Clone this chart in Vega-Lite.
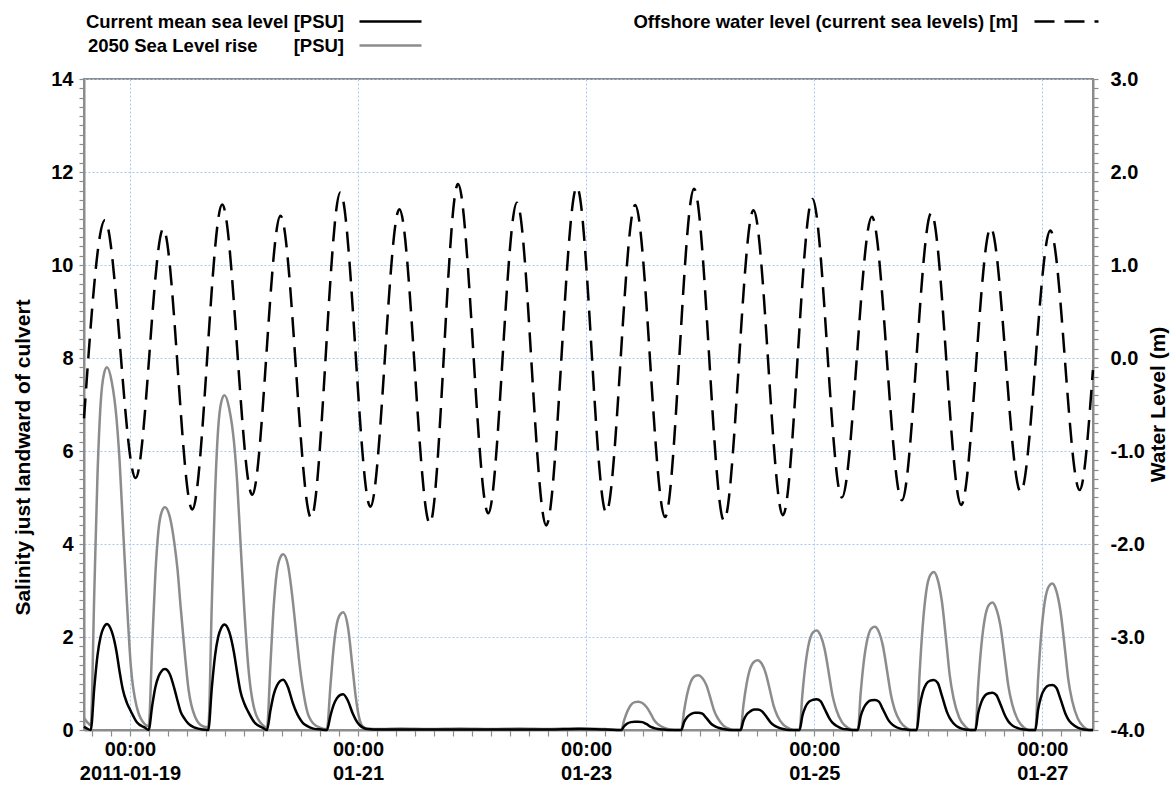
{
  "$schema": "https://vega.github.io/schema/vega-lite/v6.json",
  "width": 1009,
  "height": 651,
  "autosize": {"type": "none"},
  "padding": {"left": 84, "top": 79, "right": 78, "bottom": 55},
  "background": "white",
  "datasets": {
    "sal": [
      {"t": "2011-01-18T14:20Z", "cur": 0.07, "slr": 0.26},
      {"t": "2011-01-18T15:00Z", "cur": 0.03, "slr": 0.17},
      {"t": "2011-01-18T15:45Z", "cur": 0, "slr": 0.10},
      {"t": "2011-01-18T16:30Z", "cur": 0.91, "slr": 2.96},
      {"t": "2011-01-18T17:10Z", "cur": 1.60, "slr": 5.46},
      {"t": "2011-01-18T17:50Z", "cur": 2.01, "slr": 7.02},
      {"t": "2011-01-18T18:30Z", "cur": 2.21, "slr": 7.64},
      {"t": "2011-01-18T19:10Z", "cur": 2.28, "slr": 7.80},
      {"t": "2011-01-18T20:10Z", "cur": 2.12, "slr": 7.49},
      {"t": "2011-01-18T21:10Z", "cur": 1.69, "slr": 6.71},
      {"t": "2011-01-18T21:50Z", "cur": 1.25, "slr": 5.77},
      {"t": "2011-01-18T22:30Z", "cur": 0.87, "slr": 4.45},
      {"t": "2011-01-18T23:20Z", "cur": 0.59, "slr": 2.81},
      {"t": "2011-01-19T00:10Z", "cur": 0.41, "slr": 1.40},
      {"t": "2011-01-19T01:30Z", "cur": 0.16, "slr": 0.47},
      {"t": "2011-01-19T03:10Z", "cur": 0.05, "slr": 0.12},
      {"t": "2011-01-19T03:56Z", "cur": 0, "slr": 0.08},
      {"t": "2011-01-19T04:41Z", "cur": 0.52, "slr": 1.82},
      {"t": "2011-01-19T05:21Z", "cur": 0.92, "slr": 3.35},
      {"t": "2011-01-19T06:01Z", "cur": 1.15, "slr": 4.31},
      {"t": "2011-01-19T06:41Z", "cur": 1.27, "slr": 4.69},
      {"t": "2011-01-19T07:21Z", "cur": 1.31, "slr": 4.79},
      {"t": "2011-01-19T08:21Z", "cur": 1.21, "slr": 4.60},
      {"t": "2011-01-19T09:21Z", "cur": 0.89, "slr": 4.02},
      {"t": "2011-01-19T10:01Z", "cur": 0.63, "slr": 3.45},
      {"t": "2011-01-19T10:41Z", "cur": 0.39, "slr": 2.63},
      {"t": "2011-01-19T11:31Z", "cur": 0.24, "slr": 1.68},
      {"t": "2011-01-19T12:21Z", "cur": 0.13, "slr": 0.86},
      {"t": "2011-01-19T13:41Z", "cur": 0.05, "slr": 0.29},
      {"t": "2011-01-19T15:21Z", "cur": 0.01, "slr": 0.08},
      {"t": "2011-01-19T16:29Z", "cur": 0, "slr": 0.06},
      {"t": "2011-01-19T17:14Z", "cur": 0.91, "slr": 2.74},
      {"t": "2011-01-19T17:54Z", "cur": 1.59, "slr": 5.04},
      {"t": "2011-01-19T18:34Z", "cur": 2.00, "slr": 6.48},
      {"t": "2011-01-19T19:14Z", "cur": 2.20, "slr": 7.06},
      {"t": "2011-01-19T19:54Z", "cur": 2.27, "slr": 7.20},
      {"t": "2011-01-19T20:54Z", "cur": 2.11, "slr": 6.91},
      {"t": "2011-01-19T21:54Z", "cur": 1.66, "slr": 6.19},
      {"t": "2011-01-19T22:34Z", "cur": 1.23, "slr": 5.33},
      {"t": "2011-01-19T23:14Z", "cur": 0.84, "slr": 4.10},
      {"t": "2011-01-20T00:04Z", "cur": 0.57, "slr": 2.59},
      {"t": "2011-01-20T00:54Z", "cur": 0.39, "slr": 1.37},
      {"t": "2011-01-20T02:14Z", "cur": 0.16, "slr": 0.43},
      {"t": "2011-01-20T03:54Z", "cur": 0.05, "slr": 0.11},
      {"t": "2011-01-20T04:50Z", "cur": 0, "slr": 0.05},
      {"t": "2011-01-20T05:35Z", "cur": 0.43, "slr": 1.44},
      {"t": "2011-01-20T06:15Z", "cur": 0.76, "slr": 2.65},
      {"t": "2011-01-20T06:55Z", "cur": 0.95, "slr": 3.40},
      {"t": "2011-01-20T07:35Z", "cur": 1.05, "slr": 3.70},
      {"t": "2011-01-20T08:15Z", "cur": 1.08, "slr": 3.78},
      {"t": "2011-01-20T09:15Z", "cur": 0.92, "slr": 3.55},
      {"t": "2011-01-20T10:15Z", "cur": 0.59, "slr": 2.80},
      {"t": "2011-01-20T10:55Z", "cur": 0.41, "slr": 2.15},
      {"t": "2011-01-20T11:35Z", "cur": 0.27, "slr": 1.51},
      {"t": "2011-01-20T12:25Z", "cur": 0.15, "slr": 0.87},
      {"t": "2011-01-20T13:15Z", "cur": 0.09, "slr": 0.42},
      {"t": "2011-01-20T14:35Z", "cur": 0.03, "slr": 0.14},
      {"t": "2011-01-20T16:15Z", "cur": 0.01, "slr": 0.04},
      {"t": "2011-01-20T17:27Z", "cur": 0, "slr": 0.02},
      {"t": "2011-01-20T18:12Z", "cur": 0.31, "slr": 0.96},
      {"t": "2011-01-20T18:52Z", "cur": 0.54, "slr": 1.77},
      {"t": "2011-01-20T19:32Z", "cur": 0.68, "slr": 2.28},
      {"t": "2011-01-20T20:12Z", "cur": 0.75, "slr": 2.48},
      {"t": "2011-01-20T20:52Z", "cur": 0.77, "slr": 2.53},
      {"t": "2011-01-20T21:52Z", "cur": 0.63, "slr": 2.22},
      {"t": "2011-01-20T22:52Z", "cur": 0.36, "slr": 1.32},
      {"t": "2011-01-20T23:32Z", "cur": 0.22, "slr": 0.70},
      {"t": "2011-01-21T00:12Z", "cur": 0.12, "slr": 0.28},
      {"t": "2011-01-21T01:02Z", "cur": 0.05, "slr": 0.07},
      {"t": "2011-01-21T01:52Z", "cur": 0.02, "slr": 0.03},
      {"t": "2011-01-21T03:12Z", "cur": 0.01, "slr": 0.02},
      {"t": "2011-01-21T04:52Z", "cur": 0.01, "slr": 0.02},
      {"t": "2011-01-21T09:00Z", "cur": 0.01, "slr": 0.03},
      {"t": "2011-01-21T15:00Z", "cur": 0.01, "slr": 0.02},
      {"t": "2011-01-21T21:30Z", "cur": 0.01, "slr": 0.03},
      {"t": "2011-01-22T04:00Z", "cur": 0.01, "slr": 0.02},
      {"t": "2011-01-22T10:00Z", "cur": 0.01, "slr": 0.03},
      {"t": "2011-01-22T16:00Z", "cur": 0.01, "slr": 0.02},
      {"t": "2011-01-22T22:30Z", "cur": 0.02, "slr": 0.04},
      {"t": "2011-01-23T04:00Z", "cur": 0.01, "slr": 0.02},
      {"t": "2011-01-23T07:25Z", "cur": 0, "slr": 0},
      {"t": "2011-01-23T08:00Z", "cur": 0.08, "slr": 0.21},
      {"t": "2011-01-23T08:40Z", "cur": 0.14, "slr": 0.40},
      {"t": "2011-01-23T09:25Z", "cur": 0.17, "slr": 0.54},
      {"t": "2011-01-23T10:15Z", "cur": 0.18, "slr": 0.60},
      {"t": "2011-01-23T11:00Z", "cur": 0.18, "slr": 0.61},
      {"t": "2011-01-23T11:50Z", "cur": 0.17, "slr": 0.58},
      {"t": "2011-01-23T12:40Z", "cur": 0.13, "slr": 0.50},
      {"t": "2011-01-23T13:45Z", "cur": 0.06, "slr": 0.32},
      {"t": "2011-01-23T14:20Z", "cur": 0.04, "slr": 0.21},
      {"t": "2011-01-23T15:10Z", "cur": 0.02, "slr": 0.12},
      {"t": "2011-01-23T16:20Z", "cur": 0.01, "slr": 0.05},
      {"t": "2011-01-23T17:40Z", "cur": 0, "slr": 0.01},
      {"t": "2011-01-23T18:40Z", "cur": 0, "slr": 0},
      {"t": "2011-01-23T20:02Z", "cur": 0, "slr": 0},
      {"t": "2011-01-23T20:37Z", "cur": 0.17, "slr": 0.41},
      {"t": "2011-01-23T21:17Z", "cur": 0.28, "slr": 0.78},
      {"t": "2011-01-23T22:02Z", "cur": 0.34, "slr": 1.04},
      {"t": "2011-01-23T22:52Z", "cur": 0.37, "slr": 1.16},
      {"t": "2011-01-23T23:37Z", "cur": 0.37, "slr": 1.18},
      {"t": "2011-01-24T00:27Z", "cur": 0.35, "slr": 1.12},
      {"t": "2011-01-24T01:17Z", "cur": 0.26, "slr": 0.97},
      {"t": "2011-01-24T02:22Z", "cur": 0.13, "slr": 0.61},
      {"t": "2011-01-24T02:57Z", "cur": 0.09, "slr": 0.41},
      {"t": "2011-01-24T03:47Z", "cur": 0.05, "slr": 0.24},
      {"t": "2011-01-24T04:57Z", "cur": 0.02, "slr": 0.09},
      {"t": "2011-01-24T06:17Z", "cur": 0, "slr": 0.02},
      {"t": "2011-01-24T07:17Z", "cur": 0, "slr": 0},
      {"t": "2011-01-24T08:31Z", "cur": 0, "slr": 0},
      {"t": "2011-01-24T09:06Z", "cur": 0.20, "slr": 0.53},
      {"t": "2011-01-24T09:46Z", "cur": 0.33, "slr": 0.99},
      {"t": "2011-01-24T10:31Z", "cur": 0.40, "slr": 1.32},
      {"t": "2011-01-24T11:21Z", "cur": 0.44, "slr": 1.47},
      {"t": "2011-01-24T12:06Z", "cur": 0.44, "slr": 1.50},
      {"t": "2011-01-24T12:56Z", "cur": 0.41, "slr": 1.43},
      {"t": "2011-01-24T13:46Z", "cur": 0.31, "slr": 1.23},
      {"t": "2011-01-24T14:51Z", "cur": 0.16, "slr": 0.78},
      {"t": "2011-01-24T15:26Z", "cur": 0.11, "slr": 0.53},
      {"t": "2011-01-24T16:16Z", "cur": 0.06, "slr": 0.30},
      {"t": "2011-01-24T17:26Z", "cur": 0.02, "slr": 0.12},
      {"t": "2011-01-24T18:46Z", "cur": 0, "slr": 0.03},
      {"t": "2011-01-24T19:46Z", "cur": 0, "slr": 0},
      {"t": "2011-01-24T20:55Z", "cur": 0, "slr": 0},
      {"t": "2011-01-24T21:30Z", "cur": 0.30, "slr": 0.75},
      {"t": "2011-01-24T22:10Z", "cur": 0.50, "slr": 1.41},
      {"t": "2011-01-24T22:55Z", "cur": 0.61, "slr": 1.88},
      {"t": "2011-01-24T23:45Z", "cur": 0.65, "slr": 2.10},
      {"t": "2011-01-25T00:30Z", "cur": 0.66, "slr": 2.14},
      {"t": "2011-01-25T01:20Z", "cur": 0.62, "slr": 2.03},
      {"t": "2011-01-25T02:10Z", "cur": 0.46, "slr": 1.75},
      {"t": "2011-01-25T03:15Z", "cur": 0.24, "slr": 1.11},
      {"t": "2011-01-25T03:50Z", "cur": 0.16, "slr": 0.75},
      {"t": "2011-01-25T04:40Z", "cur": 0.09, "slr": 0.43},
      {"t": "2011-01-25T05:50Z", "cur": 0.03, "slr": 0.17},
      {"t": "2011-01-25T07:10Z", "cur": 0.01, "slr": 0.04},
      {"t": "2011-01-25T08:10Z", "cur": 0, "slr": 0},
      {"t": "2011-01-25T09:11Z", "cur": 0, "slr": 0},
      {"t": "2011-01-25T09:46Z", "cur": 0.29, "slr": 0.78},
      {"t": "2011-01-25T10:26Z", "cur": 0.48, "slr": 1.47},
      {"t": "2011-01-25T11:11Z", "cur": 0.59, "slr": 1.95},
      {"t": "2011-01-25T12:01Z", "cur": 0.64, "slr": 2.18},
      {"t": "2011-01-25T12:46Z", "cur": 0.645, "slr": 2.22},
      {"t": "2011-01-25T13:36Z", "cur": 0.61, "slr": 2.11},
      {"t": "2011-01-25T14:26Z", "cur": 0.45, "slr": 1.82},
      {"t": "2011-01-25T15:31Z", "cur": 0.23, "slr": 1.15},
      {"t": "2011-01-25T16:06Z", "cur": 0.15, "slr": 0.78},
      {"t": "2011-01-25T16:56Z", "cur": 0.08, "slr": 0.44},
      {"t": "2011-01-25T18:06Z", "cur": 0.03, "slr": 0.18},
      {"t": "2011-01-25T19:26Z", "cur": 0.01, "slr": 0.04},
      {"t": "2011-01-25T20:26Z", "cur": 0, "slr": 0},
      {"t": "2011-01-25T21:35Z", "cur": 0, "slr": 0},
      {"t": "2011-01-25T22:10Z", "cur": 0.48, "slr": 1.19},
      {"t": "2011-01-25T22:50Z", "cur": 0.81, "slr": 2.24},
      {"t": "2011-01-25T23:35Z", "cur": 0.99, "slr": 2.99},
      {"t": "2011-01-26T00:25Z", "cur": 1.06, "slr": 3.33},
      {"t": "2011-01-26T01:10Z", "cur": 1.075, "slr": 3.40},
      {"t": "2011-01-26T02:00Z", "cur": 1.01, "slr": 3.23},
      {"t": "2011-01-26T02:50Z", "cur": 0.75, "slr": 2.79},
      {"t": "2011-01-26T03:55Z", "cur": 0.39, "slr": 1.77},
      {"t": "2011-01-26T04:30Z", "cur": 0.26, "slr": 1.19},
      {"t": "2011-01-26T05:20Z", "cur": 0.14, "slr": 0.68},
      {"t": "2011-01-26T06:30Z", "cur": 0.05, "slr": 0.27},
      {"t": "2011-01-26T07:50Z", "cur": 0.01, "slr": 0.07},
      {"t": "2011-01-26T08:50Z", "cur": 0, "slr": 0},
      {"t": "2011-01-26T09:55Z", "cur": 0, "slr": 0},
      {"t": "2011-01-26T10:30Z", "cur": 0.36, "slr": 0.96},
      {"t": "2011-01-26T11:10Z", "cur": 0.60, "slr": 1.81},
      {"t": "2011-01-26T11:55Z", "cur": 0.74, "slr": 2.41},
      {"t": "2011-01-26T12:45Z", "cur": 0.79, "slr": 2.69},
      {"t": "2011-01-26T13:30Z", "cur": 0.80, "slr": 2.74},
      {"t": "2011-01-26T14:20Z", "cur": 0.75, "slr": 2.60},
      {"t": "2011-01-26T15:10Z", "cur": 0.56, "slr": 2.25},
      {"t": "2011-01-26T16:15Z", "cur": 0.29, "slr": 1.42},
      {"t": "2011-01-26T16:50Z", "cur": 0.19, "slr": 0.96},
      {"t": "2011-01-26T17:40Z", "cur": 0.10, "slr": 0.55},
      {"t": "2011-01-26T18:50Z", "cur": 0.04, "slr": 0.22},
      {"t": "2011-01-26T20:10Z", "cur": 0.01, "slr": 0.05},
      {"t": "2011-01-26T21:10Z", "cur": 0, "slr": 0},
      {"t": "2011-01-26T22:32Z", "cur": 0, "slr": 0},
      {"t": "2011-01-26T23:07Z", "cur": 0.44, "slr": 1.10},
      {"t": "2011-01-26T23:47Z", "cur": 0.73, "slr": 2.08},
      {"t": "2011-01-27T00:32Z", "cur": 0.89, "slr": 2.77},
      {"t": "2011-01-27T01:22Z", "cur": 0.96, "slr": 3.09},
      {"t": "2011-01-27T02:07Z", "cur": 0.97, "slr": 3.15},
      {"t": "2011-01-27T02:57Z", "cur": 0.91, "slr": 2.99},
      {"t": "2011-01-27T03:47Z", "cur": 0.68, "slr": 2.58},
      {"t": "2011-01-27T04:52Z", "cur": 0.35, "slr": 1.64},
      {"t": "2011-01-27T05:27Z", "cur": 0.23, "slr": 1.10},
      {"t": "2011-01-27T06:17Z", "cur": 0.13, "slr": 0.63},
      {"t": "2011-01-27T07:27Z", "cur": 0.05, "slr": 0.25},
      {"t": "2011-01-27T08:47Z", "cur": 0.01, "slr": 0.06},
      {"t": "2011-01-27T09:47Z", "cur": 0, "slr": 0},
      {"t": "2011-01-27T10:40Z", "cur": 0, "slr": 0}
    ],
    "wl": [
      {"t": "2011-01-18T14:20Z", "wl": -0.65},
      {"t": "2011-01-18T18:44Z", "wl": 1.48},
      {"t": "2011-01-19T01:12Z", "wl": -1.29},
      {"t": "2011-01-19T07:01Z", "wl": 1.39},
      {"t": "2011-01-19T13:07Z", "wl": -1.63},
      {"t": "2011-01-19T19:25Z", "wl": 1.65},
      {"t": "2011-01-20T01:44Z", "wl": -1.47},
      {"t": "2011-01-20T07:41Z", "wl": 1.53},
      {"t": "2011-01-20T14:08Z", "wl": -1.72},
      {"t": "2011-01-20T20:17Z", "wl": 1.78},
      {"t": "2011-01-21T02:36Z", "wl": -1.60},
      {"t": "2011-01-21T08:42Z", "wl": 1.60},
      {"t": "2011-01-21T15:07Z", "wl": -1.78},
      {"t": "2011-01-21T21:02Z", "wl": 1.87},
      {"t": "2011-01-22T03:24Z", "wl": -1.67},
      {"t": "2011-01-22T09:26Z", "wl": 1.67},
      {"t": "2011-01-22T15:36Z", "wl": -1.80},
      {"t": "2011-01-22T22:03Z", "wl": 1.84},
      {"t": "2011-01-23T04:13Z", "wl": -1.66},
      {"t": "2011-01-23T10:19Z", "wl": 1.645},
      {"t": "2011-01-23T16:37Z", "wl": -1.71},
      {"t": "2011-01-23T22:43Z", "wl": 1.82},
      {"t": "2011-01-24T05:01Z", "wl": -1.75},
      {"t": "2011-01-24T11:13Z", "wl": 1.59},
      {"t": "2011-01-24T17:25Z", "wl": -1.69},
      {"t": "2011-01-24T23:37Z", "wl": 1.71},
      {"t": "2011-01-25T05:49Z", "wl": -1.50},
      {"t": "2011-01-25T12:08Z", "wl": 1.52},
      {"t": "2011-01-25T18:26Z", "wl": -1.53},
      {"t": "2011-01-26T00:38Z", "wl": 1.56},
      {"t": "2011-01-26T06:56Z", "wl": -1.58},
      {"t": "2011-01-26T13:08Z", "wl": 1.40},
      {"t": "2011-01-26T19:27Z", "wl": -1.44},
      {"t": "2011-01-27T01:41Z", "wl": 1.37},
      {"t": "2011-01-27T07:51Z", "wl": -1.42},
      {"t": "2011-01-27T10:39Z", "wl": -0.13}
    ]
  },
  "encoding": {
    "x": {
      "field": "t",
      "type": "temporal",
      "scale": {"type": "utc", "nice": false, "domain": [1295360400000, 1296124800000]},
      "axis": {
        "title": null,
        "values": [1295366400000,1295380800000,1295395200000,1295409600000,1295424000000,1295438400000,1295452800000,1295467200000,1295481600000,1295496000000,1295510400000,1295524800000,1295539200000,1295553600000,1295568000000,1295582400000,1295596800000,1295611200000,1295625600000,1295640000000,1295654400000,1295668800000,1295683200000,1295697600000,1295712000000,1295726400000,1295740800000,1295755200000,1295769600000,1295784000000,1295798400000,1295812800000,1295827200000,1295841600000,1295856000000,1295870400000,1295884800000,1295899200000,1295913600000,1295928000000,1295942400000,1295956800000,1295971200000,1295985600000,1296000000000,1296014400000,1296028800000,1296043200000,1296057600000,1296072000000,1296086400000,1296100800000,1296115200000],
        "labelExpr": "utchours(datum.value) == 0 && utcdate(datum.value) % 2 == 1 ? [utcFormat(datum.value, '%H:%M'), utcdate(datum.value) == 19 ? utcFormat(datum.value, '%Y-%m-%d') : utcFormat(datum.value, '%m-%d')] : ''",
        "labelOverlap": false,
        "labelFlush": false,
        "labelPadding": 3,
        "labelLineHeight": 24,
        "labelFontSize": 20,
        "tickSize": 6,
        "grid": true,
        "gridOpacity": {"condition": {"test": "utchours(datum.value) == 0 && utcdate(datum.value) % 2 == 1", "value": 1}, "value": 0}
      }
    }
  },
  "layer": [
    {
      "data": {"name": "sal"},
      "transform": [{"fold": ["cur", "slr"], "as": ["series", "val"]}],
      "encoding": {
        "y": {
          "field": "val",
          "type": "quantitative",
          "scale": {"domain": [0, 14], "nice": false, "zero": false},
          "axis": {
            "title": "Salinity just landward of culvert",
            "values": [0,0.2,0.4,0.6,0.8,1,1.2,1.4,1.6,1.8,2,2.2,2.4,2.6,2.8,3,3.2,3.4,3.6,3.8,4,4.2,4.4,4.6,4.8,5,5.2,5.4,5.6,5.8,6,6.2,6.4,6.6,6.8,7,7.2,7.4,7.6,7.8,8,8.2,8.4,8.6,8.8,9,9.2,9.4,9.6,9.8,10,10.2,10.4,10.6,10.8,11,11.2,11.4,11.6,11.8,12,12.2,12.4,12.6,12.8,13,13.2,13.4,13.6,13.8,14],
            "labelExpr": "datum.value % 2 == 0 ? format(datum.value, 'd') : ''",
            "labelOverlap": false,
            "labelPadding": 6,
            "tickSize": 5,
            "grid": true,
            "gridOpacity": {"condition": {"test": "datum.value % 2 == 0", "value": 1}, "value": 0},
            "titleAngle": -90,
            "titleX": -61,
            "titleY": 378,
            "titleAlign": "center",
            "titleBaseline": "middle"
          }
        }
      },
      "layer": [
        {
          "transform": [{"filter": "datum.series == 'slr'"}],
          "mark": {"type": "line", "interpolate": "monotone", "strokeWidth": 2.5},
          "encoding": {
            "color": {
              "datum": "2050 Sea Level rise\u00a0\u00a0\u00a0\u00a0\u00a0\u00a0\u00a0[PSU]",
              "type": "nominal",
              "scale": {"domain": ["2050 Sea Level rise\u00a0\u00a0\u00a0\u00a0\u00a0\u00a0\u00a0[PSU]"], "range": ["#8c8c8c"]},
              "legend": {
                "orient": "none",
                "legendX": 274,
                "legendY": -66,
                "title": null,
                "padding": 0,
                "symbolType": "stroke",
                "symbolSize": 3844,
                "symbolStrokeWidth": 2.5,
                "labelAlign": "right",
                "labelOffset": -79,
                "labelLimit": 600
              }
            }
          }
        },
        {
          "transform": [{"filter": "datum.series == 'cur'"}],
          "mark": {"type": "line", "interpolate": "monotone", "strokeWidth": 2.5},
          "encoding": {
            "stroke": {
              "datum": "Current mean sea level [PSU]",
              "type": "nominal",
              "scale": {"domain": ["Current mean sea level [PSU]"], "range": ["#000000"]},
              "legend": {
                "orient": "none",
                "legendX": 274,
                "legendY": -90,
                "title": null,
                "padding": 0,
                "symbolType": "stroke",
                "symbolSize": 3844,
                "symbolStrokeWidth": 2.5,
                "labelAlign": "right",
                "labelOffset": -79,
                "labelLimit": 600
              }
            }
          }
        }
      ]
    },
    {
      "data": {"name": "wl"},
      "mark": {"type": "line", "interpolate": "monotone", "strokeWidth": 2.5, "color": "#000000"},
      "encoding": {
        "y": {
          "field": "wl",
          "type": "quantitative",
          "scale": {"domain": [-4, 3], "nice": false, "zero": false},
          "axis": {
            "orient": "right",
            "title": "Water Level (m)",
            "values": [-4,-3.9,-3.8,-3.7,-3.6,-3.5,-3.4,-3.3,-3.2,-3.1,-3,-2.9,-2.8,-2.7,-2.6,-2.5,-2.4,-2.3,-2.2,-2.1,-2,-1.9,-1.8,-1.7,-1.6,-1.5,-1.4,-1.3,-1.2,-1.1,-1,-0.9,-0.8,-0.7,-0.6,-0.5,-0.4,-0.3,-0.2,-0.1,0,0.1,0.2,0.3,0.4,0.5,0.6,0.7,0.8,0.9,1,1.1,1.2,1.3,1.4,1.5,1.6,1.7,1.8,1.9,2,2.1,2.2,2.3,2.4,2.5,2.6,2.7,2.8,2.9,3],
            "labelExpr": "abs(datum.value - round(datum.value)) < 0.001 ? (datum.value < -0.001 ? '-' : '') + format(abs(datum.value), '.1f') : ''",
            "labelOverlap": false,
            "labelPadding": 12,
            "tickSize": 5,
            "grid": false,
            "titleAngle": -90,
            "titleX": 65,
            "titleY": 325,
            "titleAlign": "center",
            "titleBaseline": "middle"
          }
        },
        "strokeDash": {
          "datum": "Offshore water level (current sea levels) [m]",
          "type": "nominal",
          "scale": {"domain": ["Offshore water level (current sea levels) [m]"], "range": [[20, 10]]},
          "legend": {
            "orient": "none",
            "legendX": 949,
            "legendY": -91,
            "title": null,
            "padding": 0,
            "symbolType": "stroke",
            "symbolSize": 4096,
            "symbolStrokeWidth": 2.5,
            "symbolStrokeColor": "#000000",
            "labelAlign": "right",
            "labelOffset": -82,
            "labelLimit": 600
          }
        }
      }
    }
  ],
  "resolve": {"scale": {"y": "independent"}, "axis": {"y": "independent"}},
  "config": {
    "font": "Liberation Sans",
    "view": {"stroke": "#8c8c8c", "strokeWidth": 2},
    "axis": {
      "labelFont": "Liberation Sans",
      "labelFontSize": 20,
      "labelFontWeight": "bold",
      "labelColor": "#000000",
      "titleFont": "Liberation Sans",
      "titleFontSize": 21,
      "titleFontWeight": "bold",
      "titleColor": "#000000",
      "domainColor": "#8c8c8c",
      "domainWidth": 2,
      "tickColor": "#8c8c8c",
      "tickWidth": 1.2,
      "gridColor": "#a7c9f2",
      "gridDash": [2, 2],
      "gridWidth": 1
    },
    "legend": {
      "labelFont": "Liberation Sans",
      "labelFontSize": 18.5,
      "labelFontWeight": "bold",
      "labelColor": "#000000",
      "labelBaseline": "middle"
    }
  }
}
